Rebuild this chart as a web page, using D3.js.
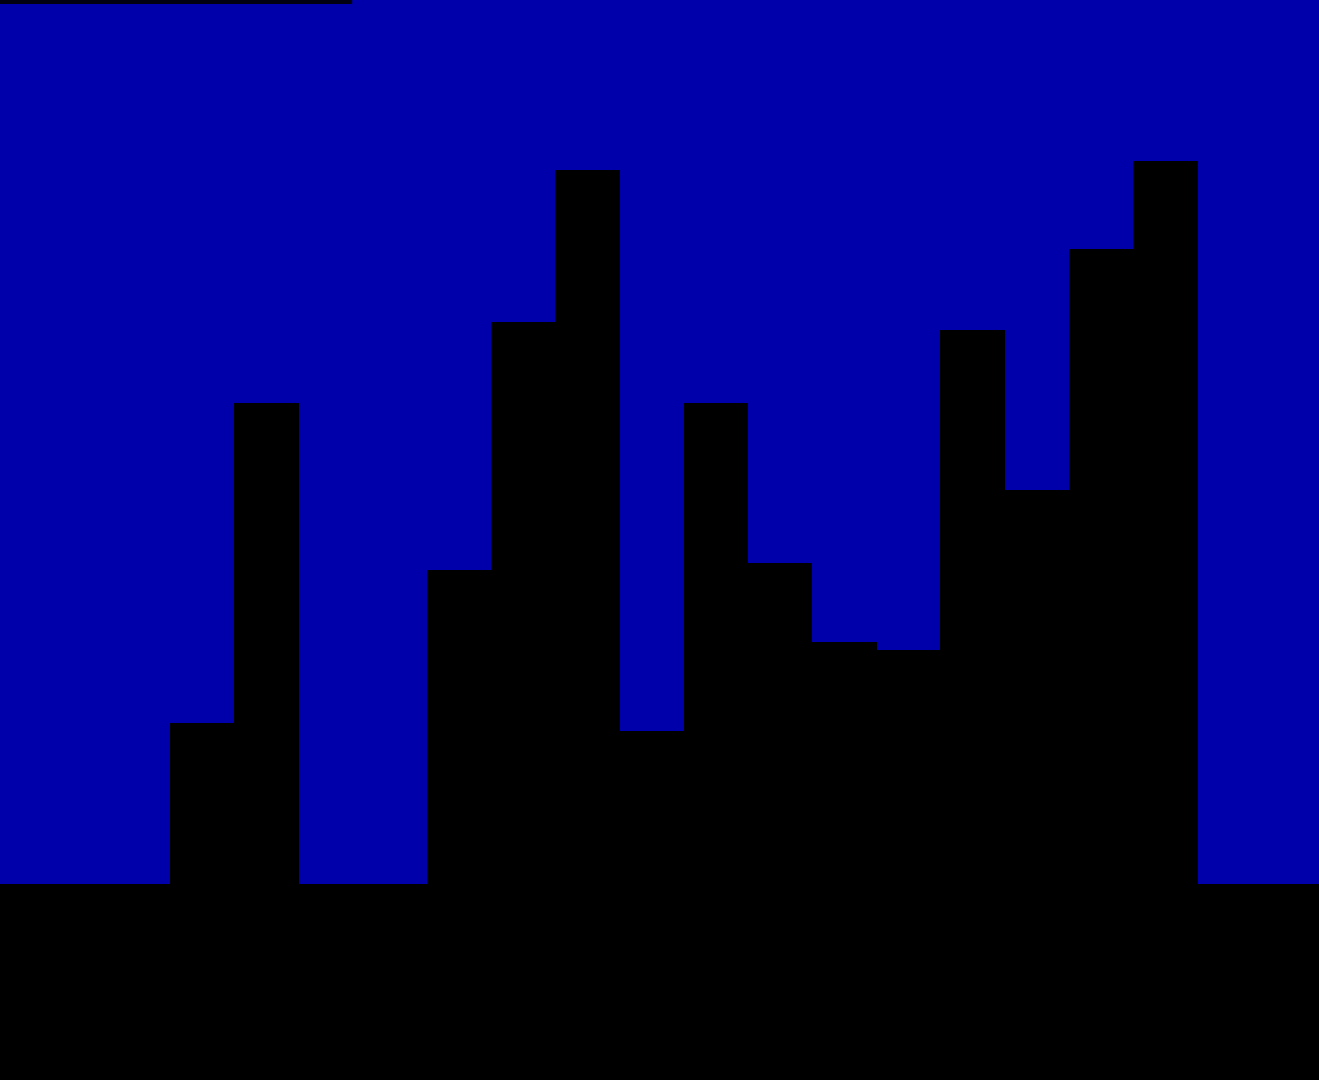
<!DOCTYPE html>
<html>
<head>
  <meta charset="utf-8">
  <title>Bars</title>
  <script src="https://d3js.org/d3.v7.min.js"></script>
  <style>
    html, body { margin: 0; padding: 0; background: #000; overflow: hidden; }
    svg { display: block; }
  </style>
</head>
<body>
  <script>
    // data (heights above the baseline, in chart units)
    var categories = ['1', '2', '3', '4', '5', '6', '7', '8', '9', '10', '11', '12', '13', '14', '15', '16'];
    var values = [161, 481, 0, 0, 314, 562, 714, 153, 481, 321, 242, 234, 554, 394, 635, 723];
    var progress = [0.267]; // share of the width taken by the thin strip at the top

    var width = 1319, height = 1080;
    var baseline = 884;

    var svg = d3.select('body')
      .append('svg')
      .attr('width', width)
      .attr('height', height);

    // blue sky above the baseline
    svg.append('rect')
      .attr('x', 0)
      .attr('y', 0)
      .attr('width', width)
      .attr('height', baseline)
      .attr('fill', '#0000aa');

    // black ground below it
    svg.append('rect')
      .attr('x', 0)
      .attr('y', baseline)
      .attr('width', width)
      .attr('height', height - baseline)
      .attr('fill', '#000');

    var x = d3.scaleBand()
      .domain(categories)
      .range([170, 1197])
      .padding(0);

    var y = d3.scaleLinear()
      .domain([0, baseline])
      .range([baseline, 0]);

    svg.append('g')
      .selectAll('rect')
      .data(values)
      .enter()
      .append('rect')
      .attr('x', function(d, i) { return x(categories[i]); })
      .attr('y', function(d) { return y(d); })
      .attr('width', x.bandwidth() + 0.5)
      .attr('height', function(d) { return baseline - y(d) + 1; })
      .attr('fill', '#000')
      .attr('shape-rendering', 'crispEdges');

    var p = d3.scaleLinear().domain([0, 1]).range([0, width]);

    svg.append('rect')
      .data(progress)
      .attr('x', 0)
      .attr('y', 0)
      .attr('width', function(d) { return p(d); })
      .attr('height', 4)
      .attr('fill', '#000012');
  </script>
</body>
</html>
